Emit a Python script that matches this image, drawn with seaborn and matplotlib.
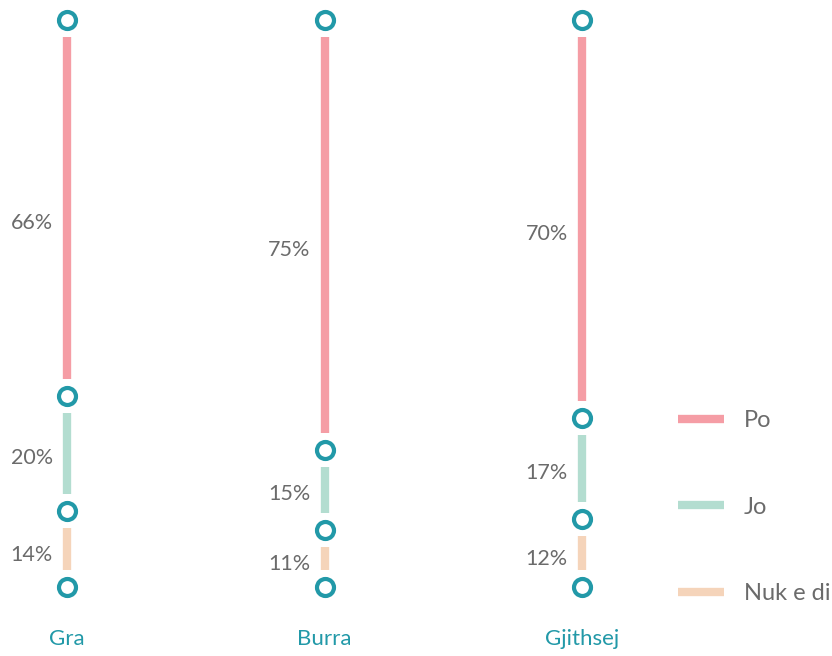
import numpy as np
import pandas as pd
import seaborn as sns
import matplotlib.pyplot as plt
from matplotlib.lines import Line2D

groups = ['Gra', 'Burra', 'Gjithsej']
nuk = [13.4, 10.1, 12.0]
jo = [20.3, 14.1, 17.8]
po = [66.3, 75.8, 70.2]
nuk_lbl = ['14%', '11%', '12%']
jo_lbl = ['20%', '15%', '17%']
po_lbl = ['66%', '75%', '70%']

series = ['Po', 'Jo', 'Nuk e di']
palette = {'Po': '#F59DA5', 'Jo': '#B3DDD0', 'Nuk e di': '#F5D4BA'}
teal = '#2299A8'

sns.set_theme(style='white')
plt.rcParams['font.family'] = ['Lato', 'DejaVu Sans']

fig = plt.figure(figsize=(8.32, 6.56), dpi=100)
ax = fig.add_axes([0, 0, 1, 1])

x = np.arange(len(groups))
b0 = np.zeros(len(groups))
b1 = b0 + np.array(nuk)
b2 = b1 + np.array(jo)
b3 = b2 + np.array(po)

gap = 3.0
# labels sit a little below the middle of each segment
segs = [('Nuk e di', b0, b1, nuk_lbl, 1.0),
        ('Jo', b1, b2, jo_lbl, 0.8),
        ('Po', b2, b3, po_lbl, 2.6)]
for name, lo, hi, lbls, drop in segs:
    ax.vlines(x, lo + gap, hi - gap, color=palette[name], linewidth=6)
    for xi, l, h, t in zip(x, lo, hi, lbls):
        ax.text(xi - 0.055, (l + h) / 2 - drop, t, ha='right', va='center',
                fontsize=15.5, color='#6b6b6b')

pts = pd.DataFrame({
    'x': np.concatenate([x, x, x, x]),
    'y': np.concatenate([b0, b1, b2, b3]),
})
sns.scatterplot(data=pts, x='x', y='y', ax=ax, s=150, color='white',
                edgecolor=teal, linewidth=3, zorder=5)

for xi, g in zip(x, groups):
    ax.text(xi, -9.2, g, ha='center', va='center', fontsize=16, color=teal)

handles = [Line2D([0], [0], color=palette[s], linewidth=6, solid_capstyle='butt')
           for s in series]
ax.legend(handles, series, loc='center left', bbox_to_anchor=(0.789, 0.227),
          frameon=False, fontsize=17, handlelength=1.95, handletextpad=0.85,
          labelspacing=2.78, labelcolor='#6b6b6b')

ax.set_xlim(-67 / 257.5, (832 - 67) / 257.5)
ax.set_ylim(-69 / 5.67, 100 + 20 / 5.67)
ax.set_xlabel('')
ax.set_ylabel('')
ax.axis('off')

fig.savefig('out.png', dpi=100)
